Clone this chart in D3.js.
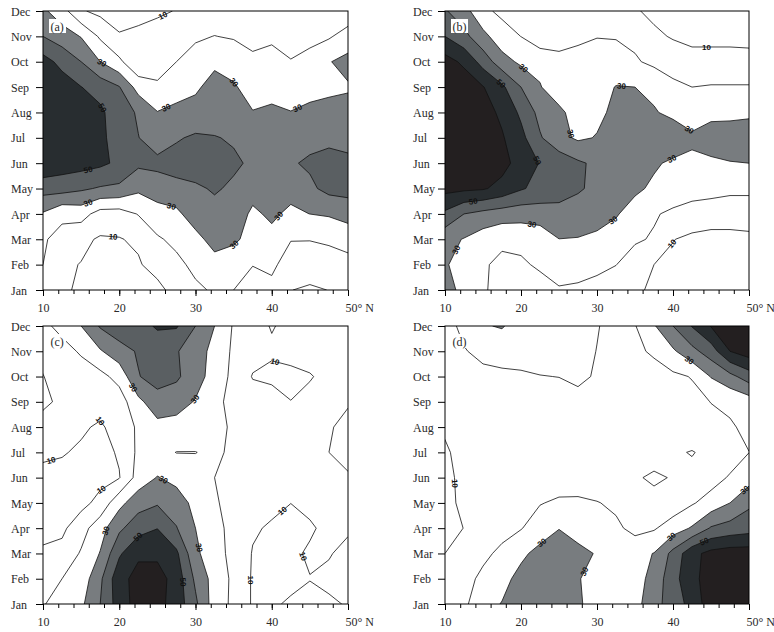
<!DOCTYPE html>
<html>
<head>
<meta charset="utf-8">
<script src="https://cdn.jsdelivr.net/npm/d3@7"></script>
<style>
  body { margin: 0; background: #fff; }
  svg { display: block; }
</style>
</head>
<body>
<svg id="chart" width="774" height="632"></svg>
<script>
// ---------------- DATA ----------------
const months = ["Jan","Feb","Mar","Apr","May","Jun","Jul","Aug","Sep","Oct","Nov","Dec"];
const lonGrid = [10,12.5,15,17.5,20,22.5,25,27.5,30,32.5,35,37.5,40,42.5,45,47.5,50];
const xTicks = [10,20,30,40,50];
const xTickLabels = ["10","20","30","40","50° N"];
const minorTicks = [10,12,14,16,18,20,22,24,26,28,30,32,34,36,38,40,42,44,46,48,50];
const lineLevels = [10,20,30,40,50,60];
const fillLevels = [30,40,50,60];
const panelNames = ["(a)","(b)","(c)","(d)"];

// rows = months Jan..Dec, columns = lonGrid
const valuesA = [
  [15, 12, 8, 6, 5, 6, 7, 14, 18.5, 21, 20, 14, 18, 10.2, 8.5, 10.2, 12],
  [20, 11.5, 9.7, 7, 6.5, 9, 14, 18, 22, 26, 25, 20.4, 21.5, 16.5, 15.5, 14, 15.7],
  [21, 17, 12, 9, 9.5, 11.5, 19, 22, 26.7, 34, 31.5, 27, 28.4, 20.3, 20.3, 22, 25],
  [29, 22, 24, 16, 15.6, 20.5, 25, 27.7, 35.4, 37, 33, 29, 31, 28.8, 30.05, 31, 33],
  [44, 44, 41.5, 39, 38, 32, 36, 37, 38.5, 41, 38.5, 32, 35, 32, 38, 43, 44],
  [58, 55, 54, 52, 48, 42, 42, 44, 45, 44, 41.5, 38.5, 38, 39, 41.5, 43, 42],
  [57, 56, 55, 52, 46, 40.2, 36, 39, 41.5, 40.5, 39, 36, 36, 36, 37, 38, 37],
  [57, 56, 54, 52, 44, 39, 30.3, 33, 33, 35, 33, 30.3, 31.5, 30.3, 32, 33, 33],
  [56, 55, 50.2, 46, 40.5, 26, 23, 25, 28.7, 33, 30.8, 27, 27, 25, 27, 28, 29.1],
  [53.9, 47, 40, 30, 22, 11.7, 11.6, 20, 24, 28.4, 27, 25, 24, 21, 24, 29.5, 33],
  [40, 35, 29.5, 18.5, 11, 12, 13, 15, 18.6, 20.2, 19, 12.7, 18, 11.5, 16.6, 18.9, 24.2],
  [32, 24, 11, 7.5, 5, 7.25, 8.85, 10.3, 13, 14, 13, 11, 12, 11, 12, 13, 13.6]
];
const valuesB = [
  [34, 27, 21, 17, 15, 16, 19, 18, 16, 14, 11, 9, 7, 6, 6, 6, 6],
  [31, 26, 21, 18, 18.5, 21.5, 25.3, 25, 23, 20.2, 15, 10, 8, 7, 7, 7, 7],
  [33, 29.5, 25, 21.8, 22.7, 24, 29.9, 29.5, 28, 25, 21.3, 19, 10.3, 8, 6.9, 7.2, 8.2],
  [48, 40, 37, 35, 34, 35, 36, 36, 34, 31, 25, 21, 18, 16, 15, 14.5, 14],
  [63, 62, 61, 57, 51, 47, 45, 41, 38, 35, 32.1, 28, 26.4, 24, 23.3, 22.1, 22.3],
  [66, 66, 65, 63.3, 56, 49.5, 46, 41.5, 38, 36, 35, 31.5, 28, 27, 27.5, 29.5, 30],
  [67, 67, 66, 61, 53, 41, 33, 28.5, 30.5, 35, 36, 36, 38, 32.7, 37, 36, 36],
  [67, 66, 64, 58, 48, 37, 32, 26, 28, 32, 33, 31, 27, 22, 26, 27, 28],
  [67, 66, 60.5, 52, 40, 30.5, 25, 24, 25, 30.5, 30, 27.2, 22, 20, 20.5, 20.5, 20.5],
  [64, 58, 46, 34, 28, 27.8, 26, 25, 24, 22, 21, 18, 16, 15, 15, 15, 15],
  [50, 43, 33, 24, 19.9, 13, 11.3, 17.2, 19.7, 19.7, 18, 12, 9.1, 6.4, 6.4, 6.4, 5.7],
  [41, 34, 22, 18, 15, 14, 13, 13, 14, 13, 11, 7.65, 6, 5, 5, 5, 5]
];
const valuesC = [
  [19.5, 23, 28, 40, 55, 64, 63, 56, 42, 25, 18, 9, 9, 11, 12, 11, 9.5],
  [14, 20, 24, 38, 57, 63, 64, 56, 38, 26, 18, 9, 7, 8, 9.8, 8.5, 7],
  [12, 13, 21, 30.5, 48.5, 58.5, 58, 52, 32, 24, 17, 9.5, 7, 8.5, 11, 10.5, 8],
  [6, 8, 16, 26, 38, 46, 49.8, 40.5, 30, 23, 17, 11, 9, 6, 9, 12, 11],
  [7, 6, 7, 13, 27, 36, 39, 35, 27, 21, 17, 14, 12, 10.1, 12, 13, 13],
  [7, 6, 6, 7, 9.5, 24, 30.5, 27, 24, 20, 17, 15, 14, 14, 13, 12, 11],
  [12, 11, 8, 7, 11, 22, 23, 19.8, 19.8, 22, 18, 15, 14, 13.5, 13, 10, 7],
  [12, 14, 12, 8, 16, 21, 26.9, 27.3, 26, 22, 19, 15, 14, 13, 13, 11, 7],
  [9, 11, 13, 16, 15, 27.5, 36, 33, 29.5, 23.5, 16, 14, 14.1, 10.1, 12, 13, 11],
  [9.8, 13, 16, 17, 23.4, 39.5, 44, 42, 33, 27, 17, 9.5, 8, 8.5, 9.5, 12, 13],
  [12, 17, 21, 29, 36, 41, 45, 41, 33, 28, 18, 13, 11.2, 12, 13, 13, 13],
  [18, 22.5, 30, 41, 46, 47, 51, 51, 40, 30, 19, 13, 9.5, 12, 13, 13, 13]
];
const valuesD = [
  [13, 18, 26.7, 30.4, 35, 36, 35, 31, 27, 25, 28, 33.7, 48.5, 51, 68, 70, 70],
  [12, 17, 22, 27, 33, 35, 34, 30.5, 27, 25, 27, 32.5, 47.5, 55, 68, 70, 70],
  [10, 13, 18, 22, 28, 33, 34, 32, 29.5, 25, 27, 30.3, 43, 57, 63, 65, 65],
  [9, 10.05, 13, 17, 19.5, 25, 29.8, 27, 24, 22, 17, 19, 25, 31, 41, 44, 46],
  [8, 11.5, 14, 16, 18, 19.5, 21.5, 22, 20.5, 18, 15, 11.4, 14, 19, 24, 30, 38],
  [8.5, 11.5, 13, 14, 15, 15, 15, 14, 13, 12, 10.5, 9.3, 10.3, 12, 16, 21, 26],
  [9, 12.5, 12, 13, 13, 13, 13, 13, 13, 12, 12, 12, 11, 9.6, 12, 15, 19.9],
  [11, 13, 14, 15, 15, 15, 15, 15, 15, 14, 14, 14, 14, 15, 17, 19, 22],
  [14, 15, 16, 17, 17, 17, 17, 17, 16, 15, 14, 14, 15, 17, 20.2, 21.8, 25],
  [14, 16, 18, 19, 19, 19.8, 20.1, 22, 19, 15, 15, 16, 18, 20.5, 30.5, 37, 45],
  [16, 19.5, 22, 22, 23, 23, 23, 23, 19.8, 17, 18, 21.5, 28.5, 37, 45, 60, 65],
  [17, 22, 29, 31, 24, 23, 23, 23, 20.5, 17, 19.5, 29, 40, 50.5, 60.5, 64, 66]
];

// contour label spots: [lon, month index, level]
const labelsA = [[25.7,10.84,10],[17.4,8.8,30],[17.65,7.16,50],[26.4,7.03,30],[35.1,8.2,30],[43.4,7.16,30],[15.9,4.76,50],[15.9,3.44,30],[26.8,3.26,30],[41.0,2.89,30],[35.1,1.77,30],[19.2,2.14,10]];
const labelsB = [[20.1,8.67,30],[17.2,8.08,50],[26.9,6.18,30],[22.3,5.13,50],[33.2,8.02,30],[42.0,6.25,30],[39.8,5.2,30],[13.7,3.48,50],[21.4,2.5,30],[32.1,2.76,30],[11.5,1.58,30],[39.8,1.84,10],[44.4,9.66,10]];
const labelsC = [[21.6,8.53,30],[30.1,8.07,30],[17.65,7.34,10],[11.3,5.4,10],[17.9,4.4,10],[40.2,9.32,10],[26.0,5.04,30],[18.7,2.86,30],[22.2,2.73,50],[31.1,2.27,30],[28.8,0.88,50],[41.3,3.72,10],[43.2,1.79,10],[36.9,0.95,10]];
const labelsD = [[42.0,9.59,30],[11.3,4.77,10],[22.5,2.53,30],[28.4,1.28,30],[40.0,2.6,30],[44.2,2.4,50],[49.25,4.58,30]];

// ---------------- LAYOUT / STYLE ----------------
const panels = [
  { values: valuesA, labels: labelsA, name: panelNames[0], x0: 43,  x1: 348, y0: 11,  y1: 290 },
  { values: valuesB, labels: labelsB, name: panelNames[1], x0: 445, x1: 749, y0: 11,  y1: 290 },
  { values: valuesC, labels: labelsC, name: panelNames[2], x0: 43,  x1: 348, y0: 326, y1: 604 },
  { values: valuesD, labels: labelsD, name: panelNames[3], x0: 445, x1: 749, y0: 326, y1: 604 }
];
const fillColor = d3.scaleThreshold().domain([40, 50, 60]).range(["#787c7f", "#5a5f62", "#282d30", "#231f20"]);
const serif = "'Liberation Serif', 'DejaVu Serif', serif";

// d3.contours grid-position offset (calibrated at runtime)
function contourOffset() {
  const c = d3.contours().size([2, 2]).thresholds([0.25])([0, 1, 0, 1])[0];
  let minX = Infinity;
  c.coordinates.forEach(poly => poly.forEach(ring => ring.forEach(p => { minX = Math.min(minX, p[0]); })));
  return minX - 0.25;
}
const off = contourOffset();

const svg = d3.select("#chart");

panels.forEach((p, pi) => {
  const x = d3.scaleLinear().domain([10, 50]).range([p.x0, p.x1]);
  const y = d3.scaleLinear().domain([0, 11]).range([p.y1, p.y0]);
  const lonIdx = d3.scaleLinear().domain([0, lonGrid.length - 1]).range([lonGrid[0], lonGrid[lonGrid.length - 1]]);
  const n = lonGrid.length, m = months.length;
  const flat = [].concat(...p.values);
  const contours = d3.contours().size([n, m]).thresholds(lineLevels)(flat);

  const toPx = (px, py) => [x(lonIdx(px - off)), y(py - off)];
  const proj = d3.geoTransform({ point(px, py) { const q = toPx(px, py); this.stream.point(q[0], q[1]); } });
  const path = d3.geoPath(proj);

  const clipId = "clip" + pi;
  svg.append("clipPath").attr("id", clipId).append("rect")
    .attr("x", p.x0).attr("y", p.y0).attr("width", p.x1 - p.x0).attr("height", p.y1 - p.y0);

  const g = svg.append("g").attr("clip-path", `url(#${clipId})`);
  g.append("rect").attr("x", p.x0).attr("y", p.y0).attr("width", p.x1 - p.x0).attr("height", p.y1 - p.y0).attr("fill", "#fff");

  contours.filter(c => fillLevels.includes(c.value)).forEach(c => {
    g.append("path").attr("d", path(c)).attr("fill", fillColor(c.value)).attr("stroke", "none");
  });
  contours.forEach(c => {
    g.append("path").attr("d", path(c)).attr("fill", "none")
      .attr("stroke", "#111").attr("stroke-width", 0.8).attr("stroke-linejoin", "round");
  });

  // contour labels along lines
  p.labels.forEach(([lon, mon, lev]) => {
    const c = contours.find(cc => cc.value === lev);
    if (!c) return;
    const tx = x(lon), ty = y(mon);
    let best = null;
    c.coordinates.forEach(poly => poly.forEach(ring => {
      const pts = ring.map(q => toPx(q[0], q[1]));
      for (let i = 0; i < pts.length - 1; i++) {
        const a = pts[i], b = pts[i + 1];
        const inside = q => q[0] >= p.x0 - 0.5 && q[0] <= p.x1 + 0.5 && q[1] >= p.y0 - 0.5 && q[1] <= p.y1 + 0.5;
        if (!inside(a) || !inside(b)) continue;
        const dx = b[0] - a[0], dy = b[1] - a[1];
        const L2 = dx * dx + dy * dy;
        if (L2 === 0) continue;
        let t = ((tx - a[0]) * dx + (ty - a[1]) * dy) / L2;
        t = Math.max(0, Math.min(1, t));
        const px = a[0] + t * dx, py = a[1] + t * dy;
        const d2 = (px - tx) ** 2 + (py - ty) ** 2;
        if (!best || d2 < best.d2) best = { d2, px, py, ang: Math.atan2(dy, dx) * 180 / Math.PI };
      }
    }));
    if (!best || best.d2 > 400) return;
    let ang = best.ang;
    if (ang > 90) ang -= 180;
    if (ang < -90) ang += 180;
    g.append("text")
      .attr("transform", `translate(${best.px},${best.py}) rotate(${ang})`)
      .attr("text-anchor", "middle").attr("dy", "0.35em")
      .attr("font-family", "'Liberation Sans', Arial, sans-serif")
      .attr("font-weight", "bold").attr("font-size", 8).attr("fill", "#111")
      .text(lev);
  });

  // frame
  svg.append("rect").attr("x", p.x0).attr("y", p.y0).attr("width", p.x1 - p.x0).attr("height", p.y1 - p.y0)
    .attr("fill", "none").attr("stroke", "#000").attr("stroke-width", 1);

  // left axis (months)
  const ya = svg.append("g").attr("transform", `translate(${p.x0},0)`)
    .call(d3.axisLeft(y).tickValues(d3.range(months.length)).tickSize(7).tickFormat(i => months[i]));
  ya.select(".domain").remove();
  ya.attr("color", "#000");
  ya.selectAll("text").attr("x", -32).attr("text-anchor", "start").attr("dy", "0.34em")
    .attr("font-family", serif).attr("font-size", 12).attr("fill", "#2a2a2a");

  // bottom axis
  const xm = svg.append("g").attr("transform", `translate(0,${p.y1})`)
    .call(d3.axisBottom(x).tickValues(minorTicks).tickSize(4).tickFormat(""));
  xm.select(".domain").remove();
  xm.attr("color", "#000");
  const xa = svg.append("g").attr("transform", `translate(0,${p.y1})`)
    .call(d3.axisBottom(x).tickValues(xTicks).tickSize(6).tickFormat((d, i) => xTickLabels[i]));
  xa.select(".domain").remove();
  xa.attr("color", "#000");
  xa.selectAll("text").attr("y", 13)
    .attr("font-family", serif).attr("font-size", 12).attr("fill", "#2a2a2a");
  xa.selectAll("text").filter(d => d === 50).attr("text-anchor", "start").attr("x", -3);

  // panel label
  svg.append("rect").attr("x", p.x0 + 6).attr("y", p.y0 + 8).attr("width", 17).attr("height", 14).attr("fill", "#fff");
  svg.append("text").attr("x", p.x0 + 7.5).attr("y", p.y0 + 19.5)
    .attr("font-family", serif).attr("font-size", 12).attr("fill", "#2a2a2a").text(p.name);
});
</script>
</body>
</html>
